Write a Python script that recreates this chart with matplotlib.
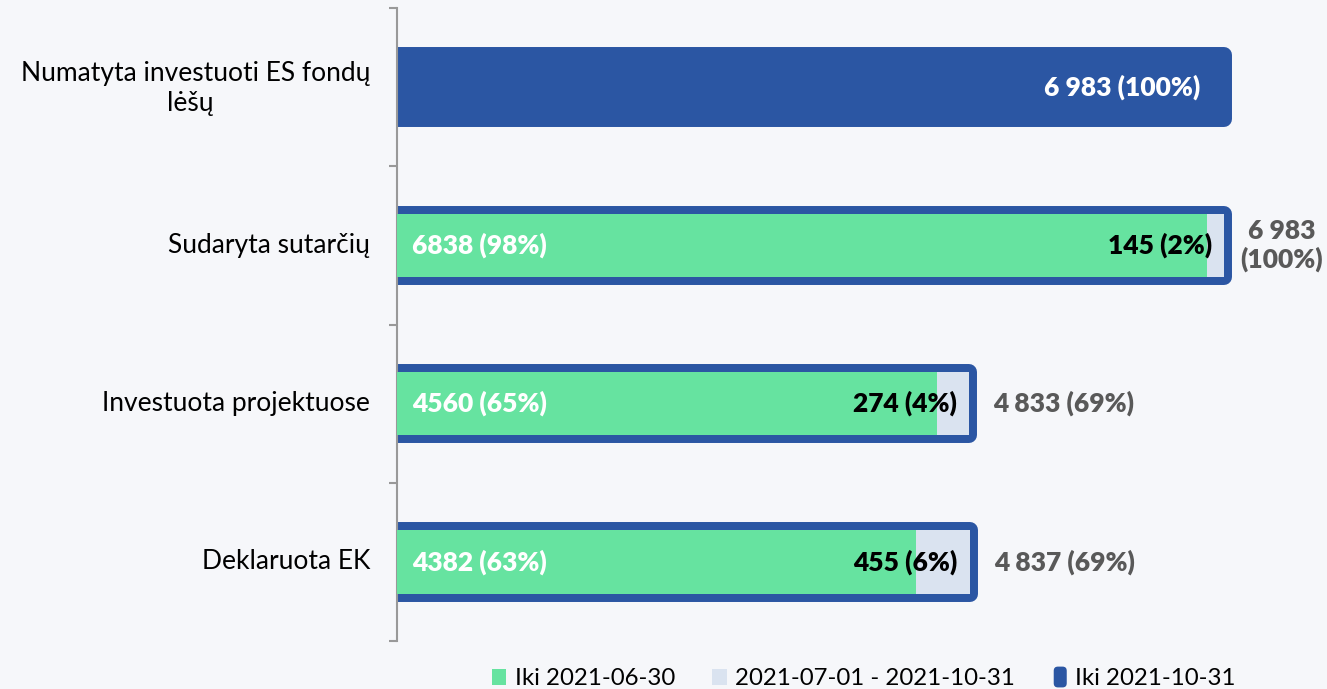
import matplotlib
matplotlib.use("Agg")
import matplotlib.pyplot as plt
from matplotlib.patches import Patch
from matplotlib.legend_handler import HandlerPatch
from matplotlib.patches import FancyBboxPatch

plt.rcParams['font.family'] = ['Lato', 'DejaVu Sans']

categories = ["Numatyta investuoti ES fondų\nlėšų", "Sudaryta sutarčių",
              "Investuota projektuose", "Deklaruota EK"]
until_jun = [0, 6838, 4560, 4382]
jul_oct = [0, 145, 274, 455]
until_oct = [6983, 6983, 4833, 4837]
pct_jun = [None, 98, 65, 63]
pct_jul = [None, 2, 4, 6]
pct_oct = [100, 100, 69, 69]
series_names = ["Iki 2021-06-30", "2021-07-01 - 2021-10-31", "Iki 2021-10-31"]

GREEN = "#66e3a0"
LIGHT = "#dae3f0"
BLUE = "#2b56a3"
BG = "#f6f7fa"
GRAY = "#595959"
FS = 19
BW = 'heavy'

W, H = 1327, 689
fig = plt.figure(figsize=(W / 100, H / 100), dpi=100, facecolor=BG)
ax = fig.add_axes([397 / W, (H - 641) / H, (W - 397) / W, 633 / H])
ax.set_facecolor(BG)

ys = [3, 2, 1, 0]
hgt = 0.4
ax.set_xlim(0, 6983 * (W - 397) / 827)
ax.set_ylim(-0.5, 3.5)

def fmt(v):
    return f"{v:,}".replace(",", " ")

for i, y in enumerate(ys):
    ax.barh(y, until_oct[i], height=hgt, color=BLUE, edgecolor=BLUE,
            linewidth=11.5, joinstyle='round', zorder=2)
    if until_jun[i] > 0:
        ax.barh(y, until_jun[i], height=hgt, color=GREEN, linewidth=0, zorder=3)
        ax.barh(y, jul_oct[i], left=until_jun[i], height=hgt, color=LIGHT,
                linewidth=0, zorder=3)
        ax.annotate(f"{until_jun[i]} ({pct_jun[i]}%)", (0, y), xytext=(15 * 0.72, 0),
                    textcoords='offset points', ha='left', va='center',
                    color='white', fontweight=BW, fontsize=FS, zorder=5)
        ax.annotate(f"{jul_oct[i]} ({pct_jul[i]}%)", (until_oct[i], y),
                    xytext=(-12 * 0.72, 0), textcoords='offset points',
                    ha='right', va='center', color='black', fontweight=BW,
                    fontsize=FS, zorder=5)
        lab = f"{fmt(until_oct[i])} ({pct_oct[i]}%)"
        off = 24
        if i == 1:
            lab = f"{fmt(until_oct[i])}\n({pct_oct[i]}%)"
            off = 16
        ax.annotate(lab, (until_oct[i], y), xytext=(off * 0.72, 0),
                    textcoords='offset points', ha='left', va='center',
                    multialignment='center', color=GRAY, fontweight=BW,
                    fontsize=FS, zorder=5, annotation_clip=False,
                    linespacing=1.15)
    else:
        ax.annotate(f"{fmt(until_oct[i])} ({pct_oct[i]}%)", (until_oct[i], y),
                    xytext=(-24 * 0.72, 0), textcoords='offset points',
                    ha='right', va='center', color='white', fontweight=BW,
                    fontsize=FS, zorder=5)

ax.set_yticks([-0.5, 0.5, 1.5, 2.5, 3.5])
ax.set_yticklabels([])
ax.tick_params(axis='y', length=8 * 0.72, width=1.5, color="#999999", direction='out')
ax.set_xticks([])
for s in ['top', 'right', 'bottom']:
    ax.spines[s].set_visible(False)
ax.spines['left'].set_color("#999999")
ax.spines['left'].set_linewidth(1.5)

for i, y in enumerate(ys):
    if i == 0:
        line1, line2 = categories[0].split("\n")
        fig.text(370 / W, 1 - 73 / H, line1, ha='right', va='center', fontsize=FS)
        fig.text(190 / W, 1 - 103 / H, line2, ha='center', va='center', fontsize=FS)
    else:
        ax.annotate(categories[i], (0, y), xytext=(-27 * 0.72, 0),
                    textcoords='offset points', ha='right', va='center',
                    fontsize=FS, annotation_clip=False)

handles = [Patch(facecolor=GREEN, edgecolor='none'),
           Patch(facecolor=LIGHT, edgecolor='none'),
           Patch(facecolor=BLUE, edgecolor='none')]

class RoundHandler(HandlerPatch):
    def create_artists(self, legend, orig_handle, xdescent, ydescent, width,
                       height, fontsize, trans):
        p = FancyBboxPatch((-xdescent + 1, -ydescent - 2), width - 1, height + 4,
                           boxstyle="round,pad=0,rounding_size=3",
                           facecolor=orig_handle.get_facecolor(),
                           edgecolor='none', transform=trans)
        return [p]

leg = ax.legend(handles, series_names, loc='center', bbox_to_anchor=(0.502, -0.06),
                ncol=3, frameon=False, fontsize=17.3, handlelength=0.6,
                handleheight=0.6, handletextpad=0.35, columnspacing=1.55,
                handler_map={handles[2]: RoundHandler()})

fig.savefig("out.png", dpi=100, facecolor=BG)
